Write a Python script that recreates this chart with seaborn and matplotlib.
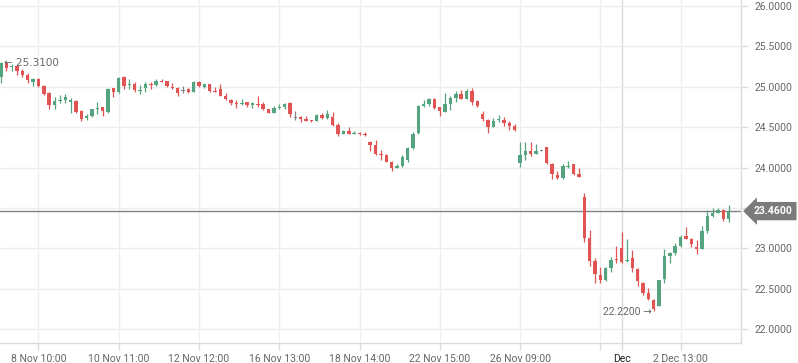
import numpy as np
import pandas as pd
import matplotlib.pyplot as plt
import matplotlib.transforms as mtransforms
import seaborn as sns

# OHLC values (one candle per row)
opens = [25.12, 25.29, 25.24, 25.26, 25.19, 25.15, 25.06, 25.10, 25.01, 24.92,
         24.77, 24.82, 24.84, 24.81, 24.82, 24.70, 24.61, 24.64, 24.72, 24.745,
         24.69, 24.98, 24.93, 25.12, 25.02, 25.03, 24.95, 24.98, 25.04, 25.02,
         25.075, 25.07, 25.00, 24.99, 24.95, 24.97, 24.94, 25.055, 25.00, 25.03,
         24.95, 24.97, 24.89, 24.84, 24.80, 24.79, 24.81, 24.77, 24.79, 24.785,
         24.725, 24.68, 24.74, 24.745, 24.795, 24.61, 24.63, 24.60, 24.59, 24.57,
         24.65, 24.61, 24.63, 24.53, 24.415, 24.45, 24.41, 24.415, 24.41, 24.32,
         24.28, 24.17, 24.155, 24.07, 23.995, 24.02, 24.09, 24.24, 24.43, 24.765,
         24.785, 24.85, 24.745, 24.69, 24.79, 24.86, 24.91, 24.85, 24.95, 24.82,
         24.66, 24.59, 24.505, 24.585, 24.59, 24.555, 24.51, 24.06, 24.155, 24.21,
         24.17, 24.21, 24.25, 24.045, 23.905, 23.866, 24.01, 24.04, 23.92, 23.63,
         23.123, 22.842, 22.669, 22.607, 22.752, 22.86, 23.007, 22.845, 22.876, 22.743,
         22.573, 22.442, 22.359, 22.288, 22.615, 22.904, 22.945, 23.032, 23.152, 23.115,
         23.019, 22.987, 23.217, 23.399, 23.44, 23.474, 23.362]
highs = [25.31, 25.31, 25.28, 25.27, 25.22, 25.17, 25.11, 25.11, 25.02, 24.93,
         24.87, 24.90, 24.91, 24.86, 24.83, 24.71, 24.66, 24.73, 24.81, 24.75,
         24.98, 24.99, 25.12, 25.13, 25.09, 25.055, 25.02, 25.055, 25.055, 25.10,
         25.09, 25.075, 25.05, 25.00, 25.01, 24.99, 25.07, 25.07, 25.03, 25.035,
         25.00, 25.04, 24.92, 24.85, 24.83, 24.85, 24.81, 24.81, 24.885, 24.81,
         24.73, 24.76, 24.79, 24.80, 24.81, 24.70, 24.64, 24.64, 24.59, 24.66,
         24.67, 24.71, 24.69, 24.55, 24.46, 24.50, 24.45, 24.44, 24.44, 24.33,
         24.34, 24.22, 24.17, 24.08, 24.04, 24.155, 24.26, 24.44, 24.77, 24.835,
         24.86, 24.86, 24.75, 24.92, 24.88, 24.95, 24.96, 24.97, 24.98, 24.84,
         24.70, 24.60, 24.61, 24.65, 24.62, 24.57, 24.54, 24.32, 24.31, 24.31,
         24.29, 24.215, 24.255, 24.06, 23.955, 24.043, 24.08, 24.045, 23.99, 23.688,
         23.226, 22.876, 22.772, 22.772, 22.895, 23.028, 23.205, 23.115, 22.98, 22.752,
         22.586, 22.51, 22.37, 22.607, 22.987, 22.957, 23.061, 23.164, 23.259, 23.123,
         23.102, 23.276, 23.474, 23.495, 23.502, 23.486, 23.536]
lows = [25.05, 25.19, 25.20, 25.14, 25.12, 25.05, 25.01, 25.00, 24.90, 24.73,
        24.73, 24.80, 24.80, 24.67, 24.68, 24.58, 24.59, 24.63, 24.66, 24.64,
        24.68, 24.87, 24.92, 24.97, 24.97, 24.93, 24.91, 24.93, 24.97, 25.01,
        25.06, 25.00, 24.97, 24.88, 24.92, 24.92, 24.93, 25.00, 24.99, 24.94,
        24.93, 24.88, 24.83, 24.77, 24.74, 24.77, 24.75, 24.74, 24.75, 24.71,
        24.67, 24.67, 24.72, 24.72, 24.63, 24.59, 24.56, 24.57, 24.56, 24.57,
        24.60, 24.60, 24.52, 24.39, 24.41, 24.41, 24.41, 24.405, 24.39, 24.21,
        24.155, 24.09, 24.065, 23.96, 23.99, 24.01, 24.07, 24.225, 24.41, 24.75,
        24.765, 24.725, 24.64, 24.69, 24.71, 24.815, 24.85, 24.85, 24.77, 24.75,
        24.58, 24.43, 24.505, 24.56, 24.52, 24.465, 24.455, 24.01, 24.09, 24.145,
        24.17, 24.205, 24.04, 23.86, 23.86, 23.854, 24.00, 23.907, 23.886, 23.08,
        22.784, 22.573, 22.566, 22.594, 22.71, 22.82, 22.82, 22.834, 22.71, 22.536,
        22.421, 22.359, 22.22, 22.288, 22.573, 22.821, 22.916, 23.019, 23.115, 23.019,
        22.925, 22.987, 23.185, 23.383, 23.432, 23.341, 23.329]
closes = [25.29, 25.23, 25.26, 25.19, 25.15, 25.08, 25.10, 25.01, 24.91, 24.77,
          24.82, 24.84, 24.87, 24.83, 24.69, 24.60, 24.64, 24.72, 24.74, 24.70,
          24.97, 24.93, 25.11, 25.01, 25.03, 24.96, 24.965, 25.03, 25.02, 25.07,
          25.06, 25.01, 24.99, 24.92, 24.95, 24.93, 25.055, 25.01, 25.03, 24.95,
          24.935, 24.88, 24.845, 24.80, 24.79, 24.80, 24.77, 24.80, 24.78, 24.725,
          24.68, 24.74, 24.745, 24.79, 24.66, 24.61, 24.60, 24.575, 24.575, 24.65,
          24.61, 24.66, 24.53, 24.41, 24.45, 24.415, 24.415, 24.41, 24.40, 24.28,
          24.17, 24.16, 24.07, 24.00, 24.02, 24.125, 24.24, 24.42, 24.76, 24.785,
          24.85, 24.74, 24.70, 24.785, 24.86, 24.91, 24.85, 24.95, 24.815, 24.765,
          24.60, 24.505, 24.575, 24.59, 24.55, 24.52, 24.46, 24.155, 24.205, 24.17,
          24.21, 24.21, 24.05, 23.915, 23.865, 24.022, 24.02, 23.92, 23.886, 23.123,
          22.846, 22.677, 22.607, 22.759, 22.854, 22.85, 22.834, 22.855, 22.752, 22.594,
          22.442, 22.368, 22.244, 22.607, 22.904, 22.945, 23.028, 23.136, 23.115, 23.053,
          22.987, 23.217, 23.399, 23.44, 23.474, 23.362, 23.46]

tick_pos = [7, 22, 37, 52, 67, 82, 97, 112, 116, 127]
tick_labels = ['8 Nov 10:00', '10 Nov 11:00', '12 Nov 12:00', '16 Nov 13:00',
               '18 Nov 14:00', '22 Nov 15:00', '26 Nov 09:00', '', 'Dec', '2 Dec 13:00']
y_ticks = [22.0, 22.5, 23.0, 23.5, 24.0, 24.5, 25.0, 25.5, 26.0]
last_price = 23.46

sns.set_theme(style='whitegrid')
plt.rcParams['font.family'] = ['Roboto', 'DejaVu Sans']

GREEN = '#53a47f'
RED = '#e15454'
GRAY = '#858585'
GRID = '#eceef2'
TXT = '#666666'

df = pd.DataFrame({'open': opens, 'high': highs, 'low': lows, 'close': closes})
df['idx'] = np.arange(len(df))
df['color'] = np.where(df['close'] > df['open'], GREEN,
                       np.where(df['close'] < df['open'], RED, GRAY))
df['body_lo'] = df[['open', 'close']].min(axis=1)
df['body_h'] = (df['close'] - df['open']).abs().clip(lower=0.012)

fig = plt.figure(figsize=(7.98, 3.63), dpi=100)
ax = fig.add_axes([0, 20 / 363, 741 / 798, 343 / 363])

# wicks + bodies
ax.vlines(df['idx'], df['low'], df['high'], colors=df['color'], linewidth=0.9, zorder=3)
ax.bar(df['idx'], df['body_h'], bottom=df['body_lo'], width=0.64,
       color=df['color'], linewidth=0, zorder=4)

# last price line
ax.axhline(last_price, color='#808080', linewidth=1, zorder=2)

ax.set_xlim(-0.19, 138.3)
ax.set_ylim(21.827, 26.074)

ax.set_xticks(tick_pos)
ax.set_xticklabels(tick_labels)
ax.set_yticks(y_ticks)
# the 23.5 label is hidden behind the last-price tag
ax.set_yticklabels(['' if v == 23.5 else f'{v:.4f}' for v in y_ticks])
ax.yaxis.tick_right()

ax.grid(True, color=GRID, linewidth=1)
ax.set_axisbelow(True)
# month boundary gridline is a bit stronger
ax.xaxis.get_gridlines()[8].set_color('#d6d9de')
for side in ['left', 'top']:
    ax.spines[side].set_visible(False)
for side in ['right', 'bottom']:
    ax.spines[side].set_visible(True)
    ax.spines[side].set_color('#d8dbe0')
    ax.spines[side].set_linewidth(1)

ax.tick_params(axis='y', right=True, left=False, length=5, width=1, color='#d8dbe0',
               labelsize=7.5, labelcolor=TXT, pad=5)
ax.tick_params(axis='x', bottom=True, length=5, width=1, color='#d8dbe0',
               labelsize=7.5, labelcolor=TXT, pad=3)
ax.get_xticklabels()[8].set_color('#222222')

# max / min annotations
i_max = int(df['high'].idxmax())
i_min = int(df['low'].idxmin())
ax.text(i_max + 0.5, df['high'].max() - 0.02, f"\u2190 {df['high'].max():.4f}",
        ha='left', va='center', fontsize=7.5, color=TXT, zorder=5,
        family=['DejaVu Sans'])
ax.text(i_min - 0.4, df['low'].min() - 0.01, f"{df['low'].min():.4f} \u2192",
        ha='right', va='center', fontsize=7.5, color=TXT, zorder=5)

# last price tag on the right axis
trans = mtransforms.blended_transform_factory(ax.transAxes, ax.transData)
ax.annotate(f'{last_price:.4f}', xy=(1.0, last_price), xycoords=trans,
            xytext=(9, 0), textcoords='offset points', ha='left', va='center',
            fontsize=7.5, fontweight='bold', color='white', annotation_clip=False,
            bbox=dict(boxstyle='larrow,pad=0.4', fc='#7b7b7b', ec='none'))

plt.savefig('out.png', dpi=100)
